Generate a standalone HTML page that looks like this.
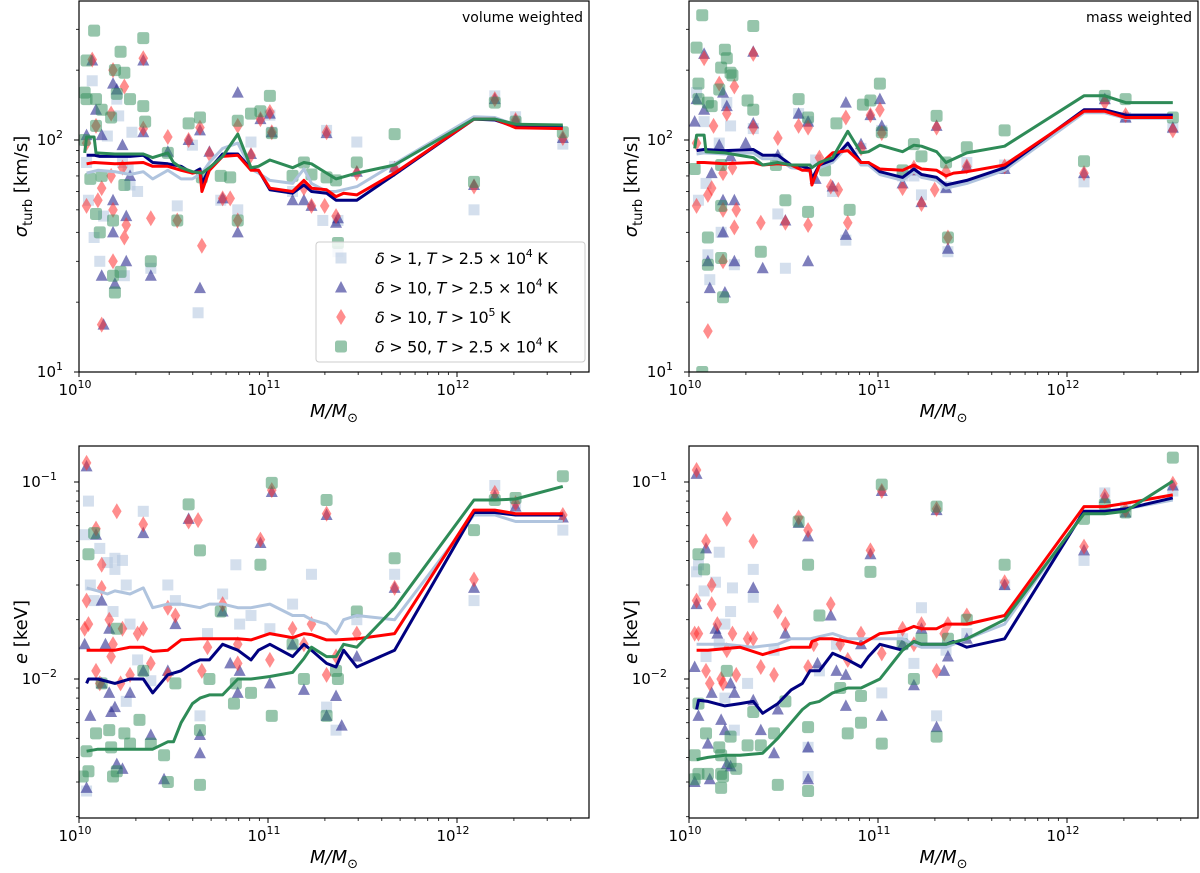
<!DOCTYPE html>
<html><head><meta charset="utf-8"><style>
body{margin:0;background:#fff;}
svg{display:block;font-family:"DejaVu Sans","Liberation Sans",sans-serif;}
</style></head><body>
<svg id="fig" width="1200" height="873" viewBox="0 0 1200 873" xmlns="http://www.w3.org/2000/svg"></svg>
<script>
// ---------- DATA (log10 mass, value) ----------
const tlLbLine=[[10.04,72],[10.1,74],[10.19,73],[10.27,71],[10.34,73],[10.39,68],[10.47,74],[10.54,68],[10.6,68],[10.65,72],[10.69,80],[10.76,92],[10.84,97],[10.91,75],[10.95,72],[11.01,67],[11.13,65],[11.19,75],[11.23,65],[11.31,60],[11.36,60],[11.47,63],[11.67,79],[12.09,126],[12.2,125],[12.31,116],[12.56,114]];
const tlNvLine=[[10.04,86],[10.08,86],[10.11,85],[10.19,85],[10.27,85],[10.34,86],[10.39,80],[10.47,79],[10.54,77],[10.6,72],[10.64,75],[10.65,65],[10.69,75],[10.76,87],[10.84,87],[10.91,75],[10.95,74],[11.01,61],[11.13,59],[11.19,64],[11.23,60],[11.31,59],[11.36,55],[11.47,55],[11.67,71],[12.09,123],[12.2,122],[12.31,114],[12.56,114]];
const tlRdLine=[[10.04,79],[10.08,80],[10.19,79],[10.34,80],[10.39,77],[10.47,77],[10.54,74],[10.6,72],[10.64,73],[10.65,60],[10.69,74],[10.76,85],[10.84,86],[10.91,74],[10.95,74],[11.01,62],[11.13,60],[11.19,67],[11.23,62],[11.31,61],[11.36,57],[11.4,59],[11.47,58],[11.67,72],[12.09,123],[12.2,123],[12.31,113],[12.56,112]];
const tlGrLine=[[10.03,88],[10.04,103],[10.08,103],[10.09,88],[10.19,87],[10.34,87],[10.39,84],[10.47,88],[10.5,80],[10.54,76],[10.6,73],[10.65,72],[10.69,76],[10.76,85],[10.84,106],[10.91,76],[10.95,77],[11.01,82],[11.13,76],[11.19,80],[11.23,79],[11.31,72],[11.36,68],[11.47,72],[11.67,78],[12.09,123],[12.2,123],[12.31,117],[12.56,116]];
const tlLbPts=[[10.04,80],[10.05,55],[10.07,180],[10.08,38],[10.11,30],[10.13,47],[10.15,104],[10.2,150],[10.21,127],[10.23,80],[10.24,26],[10.26,75],[10.27,64],[10.28,108],[10.31,60],[10.38,28],[10.52,52],[10.6,95],[10.63,18],[10.75,55],[10.84,50],[10.91,98],[11.01,128],[11.02,108],[11.13,60],[11.29,45],[11.31,110],[11.37,45],[11.37,33],[11.47,98],[11.67,77],[12.09,50],[12.2,155],[12.31,126],[12.56,96]];
const tlNvPts=[[10.04,105],[10.07,220],[10.09,135],[10.12,105],[10.13,16],[10.12,26],[10.18,175],[10.18,55],[10.18,40],[10.19,24],[10.2,165],[10.23,95],[10.25,47],[10.25,30],[10.27,70],[10.34,220],[10.34,108],[10.38,26],[10.47,89],[10.58,100],[10.64,110],[10.64,23],[10.69,89],[10.76,56],[10.84,160],[10.84,40],[10.91,87],[10.96,123],[11.01,130],[11.02,108],[11.13,55],[11.19,55],[11.23,52],[11.31,107],[11.36,44],[11.37,46],[11.47,73],[11.67,76],[12.09,64],[12.2,150],[12.31,122],[12.56,102]];
const tlRdPts=[[10.04,97],[10.04,52],[10.07,222],[10.09,115],[10.1,55],[10.12,16],[10.12,62],[10.17,130],[10.18,50],[10.18,30],[10.17,70],[10.18,200],[10.23,76],[10.24,170],[10.24,38],[10.25,43],[10.34,225],[10.34,112],[10.38,46],[10.47,103],[10.52,45],[10.58,100],[10.64,113],[10.65,35],[10.69,87],[10.76,56],[10.8,56],[10.84,115],[10.84,45],[10.91,86],[10.96,123],[11.01,132],[11.02,108],[11.19,62],[11.23,52],[11.31,108],[11.3,52],[11.36,47],[11.47,72],[11.67,75],[12.09,63],[12.2,150],[12.31,122],[12.56,102]];
const tlGrPts=[[10.04,220],[10.08,296],[10.03,160],[10.04,150],[10.09,150],[10.12,135],[10.09,115],[10.19,200],[10.2,158],[10.22,240],[10.24,195],[10.27,150],[10.34,275],[10.34,140],[10.17,125],[10.35,120],[10.03,100],[10.06,68],[10.09,48],[10.11,40],[10.18,45],[10.18,26],[10.19,22],[10.22,27],[10.38,30],[10.47,88],[10.52,45],[10.58,118],[10.64,125],[10.65,69],[10.75,70],[10.8,69],[10.84,121],[10.84,45],[10.91,130],[10.96,133],[11.01,155],[11.02,107],[11.13,70],[11.19,80],[11.23,71],[11.31,69],[11.36,67],[11.37,36],[11.47,80],[11.67,106],[12.09,66],[12.2,145],[12.31,120],[12.56,108],[10.24,64],[10.12,70]];

const trLbLine=[[10.04,87],[10.08,88],[10.19,87],[10.34,88],[10.39,83],[10.47,83],[10.54,76],[10.6,75],[10.64,73],[10.65,67],[10.69,76],[10.76,80],[10.84,94],[10.91,78],[10.95,78],[11.01,71],[11.13,67],[11.19,73],[11.23,69],[11.31,67],[11.36,62],[11.47,65],[11.67,74],[12.09,131],[12.2,131],[12.31,124],[12.56,124]];
const trNvLine=[[10.04,90],[10.08,91],[10.19,90],[10.34,91],[10.39,86],[10.47,86],[10.54,78],[10.6,77],[10.64,75],[10.65,68],[10.69,78],[10.76,82],[10.84,97],[10.91,80],[10.95,80],[11.01,73],[11.13,69],[11.19,75],[11.23,71],[11.31,69],[11.36,64],[11.47,67],[11.67,76],[12.09,135],[12.2,135],[12.31,128],[12.56,128]];
const trRdLine=[[10.04,80],[10.08,80],[10.19,79],[10.34,80],[10.39,78],[10.47,79],[10.54,78],[10.6,74],[10.64,74],[10.65,64],[10.69,78],[10.76,88],[10.84,90],[10.91,80],[10.95,80],[11.01,75],[11.13,74],[11.19,78],[11.23,75],[11.31,74],[11.36,70],[11.4,72],[11.47,73],[11.67,78],[12.09,133],[12.2,133],[12.31,125],[12.56,125]];
const trGrLine=[[10.03,92],[10.04,105],[10.08,105],[10.09,89],[10.19,88],[10.34,84],[10.39,78],[10.47,80],[10.54,78],[10.6,78],[10.64,78],[10.65,76],[10.69,80],[10.76,84],[10.84,109],[10.91,88],[10.95,89],[11.01,95],[11.13,89],[11.19,95],[11.23,94],[11.31,89],[11.36,80],[11.47,88],[11.67,94],[12.09,155],[12.2,155],[12.31,145],[12.56,145]];
const trLbPts=[[10.04,160],[10.08,120],[10.05,55],[10.09,65],[10.1,32],[10.11,25],[10.16,97],[10.2,145],[10.22,115],[10.17,40],[10.24,29],[10.34,112],[10.47,83],[10.47,48],[10.51,28],[10.58,130],[10.63,120],[10.67,82],[10.76,60],[10.83,37],[10.91,92],[11.02,110],[11.13,70],[11.19,70],[11.23,58],[11.36,63],[11.37,33],[11.47,80],[11.67,78],[12.09,66],[12.2,150],[12.31,125],[12.56,113]];
const trNvPts=[[10.04,150],[10.08,235],[10.08,135],[10.03,120],[10.1,30],[10.11,23],[10.12,72],[10.16,95],[10.18,160],[10.18,55],[10.18,40],[10.19,22],[10.2,140],[10.22,85],[10.24,55],[10.24,30],[10.3,97],[10.34,240],[10.34,118],[10.39,28],[10.47,86],[10.51,45],[10.58,130],[10.63,120],[10.63,30],[10.67,68],[10.76,63],[10.83,145],[10.83,39],[10.91,96],[10.96,128],[11.01,150],[11.02,115],[11.13,65],[11.19,74],[11.23,54],[11.31,115],[11.36,62],[11.37,34],[11.47,77],[11.67,75],[12.09,72],[12.2,150],[12.31,125],[12.56,113]];
const trRdPts=[[10.04,97],[10.04,52],[10.08,225],[10.1,15],[10.1,58],[10.12,62],[10.13,115],[10.16,175],[10.18,50],[10.18,30],[10.18,72],[10.2,130],[10.23,76],[10.24,170],[10.24,42],[10.25,50],[10.34,235],[10.34,113],[10.38,44],[10.47,102],[10.51,44],[10.58,115],[10.63,113],[10.63,43],[10.69,84],[10.75,63],[10.79,61],[10.83,125],[10.84,44],[10.91,92],[10.96,128],[11.01,135],[11.02,107],[11.13,62],[11.19,76],[11.23,53],[11.31,113],[11.3,61],[11.36,73],[11.37,38],[11.47,77],[11.67,77],[12.09,72],[12.2,145],[12.31,128],[12.56,110]];
const trGrPts=[[10.04,250],[10.05,175],[10.07,345],[10.05,150],[10.1,145],[10.12,140],[10.03,75],[10.17,205],[10.19,245],[10.2,225],[10.22,195],[10.16,165],[10.17,78],[10.23,190],[10.31,148],[10.34,310],[10.34,135],[10.17,52],[10.1,29],[10.1,38],[10.17,31],[10.18,21],[10.07,10],[10.38,33],[10.51,55],[10.58,150],[10.63,125],[10.63,49],[10.72,74],[10.78,118],[10.85,50],[10.92,142],[10.96,148],[11.01,175],[11.02,108],[11.13,74],[11.19,96],[11.23,85],[11.31,127],[11.36,80],[11.37,38],[11.47,93],[11.67,110],[12.09,81],[12.2,155],[12.31,150],[12.56,125],[10.46,78]];

const blLbLine=[[10.04,0.029],[10.1,0.028],[10.15,0.027],[10.19,0.028],[10.27,0.027],[10.34,0.029],[10.39,0.023],[10.47,0.024],[10.54,0.024],[10.64,0.023],[10.69,0.024],[10.76,0.024],[10.84,0.023],[10.91,0.023],[11.01,0.024],[11.13,0.021],[11.19,0.021],[11.23,0.02],[11.31,0.019],[11.36,0.017],[11.4,0.02],[11.47,0.021],[11.67,0.02],[12.09,0.068],[12.2,0.068],[12.31,0.063],[12.56,0.063]];
const blNvLine=[[10.04,0.0095],[10.05,0.01],[10.1,0.01],[10.19,0.0095],[10.27,0.01],[10.34,0.01],[10.39,0.0085],[10.47,0.0105],[10.54,0.011],[10.6,0.012],[10.64,0.0125],[10.69,0.0125],[10.76,0.015],[10.84,0.014],[10.91,0.0125],[10.95,0.014],[11.01,0.015],[11.13,0.013],[11.19,0.015],[11.23,0.014],[11.31,0.012],[11.36,0.0115],[11.4,0.014],[11.47,0.0115],[11.67,0.014],[12.09,0.07],[12.2,0.07],[12.31,0.068],[12.56,0.068]];
const blRdLine=[[10.04,0.014],[10.1,0.014],[10.19,0.014],[10.27,0.0145],[10.34,0.0145],[10.39,0.0138],[10.47,0.014],[10.54,0.0158],[10.64,0.016],[10.76,0.016],[10.84,0.016],[10.91,0.0158],[11.01,0.017],[11.13,0.0162],[11.19,0.017],[11.23,0.0168],[11.31,0.0158],[11.36,0.0158],[11.47,0.016],[11.67,0.017],[12.09,0.072],[12.2,0.072],[12.31,0.069],[12.56,0.069]];
const blGrLine=[[10.04,0.0043],[10.1,0.0044],[10.19,0.0044],[10.27,0.0044],[10.34,0.0044],[10.39,0.0044],[10.47,0.0048],[10.5,0.0048],[10.54,0.006],[10.6,0.0075],[10.64,0.008],[10.69,0.0083],[10.76,0.0083],[10.84,0.01],[10.91,0.01],[11.01,0.0103],[11.13,0.0108],[11.19,0.0127],[11.23,0.0145],[11.31,0.013],[11.36,0.013],[11.4,0.015],[11.47,0.0145],[11.67,0.023],[12.09,0.081],[12.2,0.081],[12.31,0.082],[12.56,0.095]];
const blLbPts=[[10.05,0.08],[10.03,0.054],[10.06,0.03],[10.08,0.025],[10.11,0.046],[10.15,0.039],[10.19,0.041],[10.19,0.036],[10.23,0.04],[10.18,0.022],[10.25,0.03],[10.27,0.019],[10.31,0.0125],[10.34,0.071],[10.38,0.0098],[10.47,0.03],[10.51,0.025],[10.64,0.0065],[10.68,0.017],[10.76,0.027],[10.83,0.038],[10.85,0.019],[10.91,0.021],[11.01,0.018],[11.13,0.024],[11.23,0.034],[11.31,0.0072],[11.36,0.0055],[11.47,0.02],[11.67,0.034],[12.09,0.025],[12.2,0.096],[12.31,0.078],[12.56,0.057],[10.25,0.0077],[10.04,0.0027]];
const blNvPts=[[10.04,0.12],[10.04,0.0028],[10.03,0.015],[10.06,0.0065],[10.09,0.054],[10.12,0.0095],[10.12,0.025],[10.14,0.015],[10.16,0.018],[10.17,0.0068],[10.19,0.0072],[10.2,0.0037],[10.23,0.0035],[10.27,0.0085],[10.34,0.011],[10.34,0.055],[10.38,0.0052],[10.45,0.0031],[10.47,0.011],[10.51,0.019],[10.58,0.065],[10.64,0.0042],[10.64,0.0052],[10.76,0.022],[10.8,0.012],[10.84,0.0085],[10.85,0.011],[10.96,0.049],[11.01,0.0095],[11.02,0.089],[11.13,0.015],[11.19,0.0088],[11.31,0.068],[11.31,0.0065],[11.36,0.0082],[11.39,0.0058],[11.47,0.013],[11.67,0.029],[12.09,0.029],[12.2,0.085],[12.31,0.075],[12.56,0.066],[10.16,0.0085]];
const blRdPts=[[10.04,0.125],[10.04,0.025],[10.03,0.018],[10.05,0.019],[10.09,0.058],[10.09,0.011],[10.11,0.0095],[10.12,0.029],[10.12,0.038],[10.16,0.02],[10.17,0.013],[10.18,0.015],[10.2,0.071],[10.22,0.0095],[10.23,0.018],[10.27,0.0105],[10.31,0.017],[10.34,0.018],[10.34,0.061],[10.38,0.012],[10.47,0.0105],[10.47,0.023],[10.51,0.021],[10.58,0.063],[10.63,0.064],[10.65,0.011],[10.68,0.0145],[10.76,0.024],[10.84,0.012],[10.84,0.015],[10.96,0.051],[11.01,0.0125],[11.02,0.091],[11.13,0.018],[11.19,0.015],[11.23,0.019],[11.31,0.069],[11.31,0.0105],[11.36,0.013],[11.47,0.017],[11.67,0.029],[12.09,0.032],[12.2,0.088],[12.31,0.078],[12.56,0.068]];
const blGrPts=[[10.05,0.043],[10.08,0.055],[10.04,0.0043],[10.02,0.0032],[10.05,0.0034],[10.09,0.0053],[10.16,0.0055],[10.17,0.0045],[10.18,0.0032],[10.2,0.0034],[10.24,0.0053],[10.27,0.0047],[10.32,0.0062],[10.34,0.011],[10.38,0.0047],[10.45,0.0041],[10.47,0.003],[10.51,0.0095],[10.58,0.077],[10.64,0.045],[10.64,0.0055],[10.64,0.0029],[10.69,0.01],[10.75,0.022],[10.82,0.0075],[10.83,0.0095],[10.91,0.0085],[10.96,0.038],[11.02,0.0065],[11.02,0.099],[11.13,0.015],[11.19,0.01],[11.31,0.081],[11.31,0.0065],[11.36,0.011],[11.37,0.01],[11.47,0.022],[11.67,0.041],[12.09,0.057],[12.2,0.081],[12.31,0.083],[12.56,0.107],[10.12,0.0095],[10.2,0.018]];

const brLbLine=[[10.04,0.015],[10.1,0.015],[10.19,0.015],[10.34,0.0145],[10.47,0.015],[10.54,0.016],[10.64,0.016],[10.76,0.017],[10.84,0.016],[10.91,0.016],[11.01,0.016],[11.13,0.016],[11.19,0.015],[11.23,0.0145],[11.31,0.0145],[11.36,0.0145],[11.47,0.016],[11.67,0.019],[12.09,0.07],[12.2,0.07],[12.31,0.073],[12.56,0.081]];
const brNvLine=[[10.04,0.007],[10.05,0.0078],[10.1,0.0077],[10.19,0.0073],[10.27,0.0075],[10.34,0.0077],[10.39,0.0067],[10.47,0.0075],[10.54,0.0088],[10.6,0.0095],[10.64,0.011],[10.69,0.011],[10.76,0.0135],[10.84,0.0125],[10.91,0.0115],[10.95,0.013],[11.01,0.015],[11.13,0.014],[11.19,0.0155],[11.23,0.015],[11.31,0.015],[11.36,0.015],[11.4,0.0155],[11.47,0.0145],[11.67,0.016],[12.09,0.071],[12.2,0.071],[12.31,0.073],[12.56,0.083]];
const brRdLine=[[10.04,0.014],[10.1,0.014],[10.27,0.0145],[10.39,0.0133],[10.47,0.014],[10.54,0.0145],[10.64,0.0145],[10.65,0.0155],[10.69,0.016],[10.76,0.016],[10.84,0.0155],[10.91,0.015],[11.01,0.017],[11.13,0.0175],[11.19,0.0185],[11.23,0.018],[11.31,0.018],[11.36,0.019],[11.47,0.019],[11.67,0.021],[12.09,0.075],[12.2,0.075],[12.31,0.078],[12.56,0.086]];
const brGrLine=[[10.04,0.0039],[10.1,0.004],[10.19,0.0041],[10.27,0.0041],[10.39,0.0042],[10.47,0.005],[10.54,0.006],[10.6,0.007],[10.64,0.0075],[10.69,0.0077],[10.76,0.0085],[10.84,0.009],[10.91,0.009],[11.01,0.01],[11.13,0.014],[11.19,0.0155],[11.23,0.015],[11.31,0.015],[11.36,0.015],[11.47,0.016],[11.67,0.02],[12.09,0.069],[12.2,0.069],[12.31,0.071],[12.56,0.101]];
const brLbPts=[[10.04,0.035],[10.05,0.038],[10.08,0.028],[10.09,0.013],[10.14,0.031],[10.16,0.044],[10.19,0.019],[10.22,0.022],[10.23,0.029],[10.16,0.015],[10.19,0.008],[10.24,0.0055],[10.31,0.0095],[10.34,0.026],[10.34,0.036],[10.45,0.014],[10.63,0.0032],[10.63,0.0045],[10.69,0.011],[10.78,0.015],[11.02,0.0085],[11.13,0.016],[11.19,0.012],[11.23,0.023],[11.31,0.0065],[11.36,0.014],[11.47,0.017],[11.67,0.03],[12.09,0.04],[12.2,0.088],[12.31,0.075],[12.56,0.09]];
const brNvPts=[[10.04,0.11],[10.04,0.024],[10.03,0.0115],[10.05,0.0065],[10.03,0.003],[10.09,0.046],[10.12,0.0085],[10.1,0.0047],[10.11,0.0031],[10.14,0.018],[10.15,0.017],[10.17,0.0062],[10.19,0.0055],[10.2,0.0037],[10.22,0.0036],[10.22,0.0095],[10.24,0.0085],[10.34,0.029],[10.34,0.0078],[10.38,0.0055],[10.45,0.0042],[10.47,0.007],[10.51,0.017],[10.58,0.062],[10.63,0.053],[10.63,0.0045],[10.63,0.0031],[10.68,0.012],[10.75,0.021],[10.78,0.011],[10.83,0.0105],[10.83,0.0073],[10.91,0.015],[10.96,0.043],[11.02,0.0065],[11.02,0.09],[11.13,0.015],[11.19,0.0093],[11.23,0.018],[11.31,0.072],[11.31,0.0057],[11.35,0.011],[11.37,0.013],[11.47,0.016],[11.67,0.03],[12.09,0.045],[12.2,0.083],[12.31,0.07],[12.56,0.096]];
const brRdPts=[[10.04,0.115],[10.04,0.025],[10.03,0.017],[10.05,0.017],[10.09,0.05],[10.09,0.011],[10.11,0.0095],[10.12,0.03],[10.12,0.024],[10.15,0.019],[10.17,0.01],[10.18,0.0095],[10.2,0.065],[10.2,0.014],[10.23,0.017],[10.25,0.0105],[10.31,0.016],[10.34,0.016],[10.34,0.05],[10.38,0.0115],[10.45,0.0105],[10.47,0.022],[10.51,0.019],[10.58,0.066],[10.63,0.057],[10.63,0.0115],[10.66,0.015],[10.75,0.024],[10.8,0.015],[10.84,0.0125],[10.91,0.017],[10.96,0.045],[11.02,0.0135],[11.02,0.09],[11.13,0.018],[11.19,0.015],[11.23,0.019],[11.31,0.073],[11.31,0.011],[11.35,0.017],[11.37,0.019],[11.47,0.021],[11.67,0.031],[12.09,0.047],[12.2,0.085],[12.31,0.072],[12.56,0.098]];
const brGrPts=[[10.05,0.043],[10.08,0.036],[10.05,0.0075],[10.03,0.0041],[10.05,0.0033],[10.03,0.0031],[10.09,0.0053],[10.1,0.0033],[10.16,0.0045],[10.17,0.0041],[10.17,0.0033],[10.17,0.0028],[10.18,0.0032],[10.2,0.011],[10.22,0.0051],[10.22,0.0038],[10.25,0.0035],[10.31,0.0046],[10.34,0.0068],[10.38,0.0046],[10.45,0.0053],[10.47,0.0029],[10.51,0.0077],[10.58,0.063],[10.63,0.038],[10.63,0.0057],[10.63,0.0027],[10.69,0.021],[10.8,0.009],[10.84,0.0053],[10.91,0.0082],[10.91,0.006],[10.96,0.035],[11.02,0.0047],[11.02,0.097],[11.13,0.015],[11.19,0.01],[11.23,0.016],[11.31,0.075],[11.31,0.0051],[11.37,0.016],[11.47,0.02],[11.67,0.038],[12.09,0.065],[12.2,0.077],[12.31,0.07],[12.56,0.133]];

const xTickExps=[10,11,12];
const sigmaTickExps=[1,2];
const eTickExps=[-2,-1];
const legendLabels=["1, T > 2.5 × 10","10, T > 2.5 × 10","10, T > 10","50, T > 2.5 × 10"];

// ---------- DRAW ----------
const NS="http://www.w3.org/2000/svg";
const svg=document.getElementById('fig');
function mk(tag,attrs,parent){const e=document.createElementNS(NS,tag);for(const k in attrs)e.setAttribute(k,attrs[k]);(parent||svg).appendChild(e);return e;}

const panels=[
 {id:'tl',x0:79,x1:589,y0:1,y1:372,yA:2,pyA:140,yB:1,pyB:372,yt:sigmaTickExps,yl:'sigma',lines:[tlLbLine,tlNvLine,tlRdLine,tlGrLine],pts:[tlLbPts,tlNvPts,tlRdPts,tlGrPts],title:'volume weighted'},
 {id:'tr',x0:689,x1:1198,y0:1,y1:372,yA:2,pyA:140,yB:1,pyB:372,yt:sigmaTickExps,yl:'sigma',lines:[trLbLine,trNvLine,trRdLine,trGrLine],pts:[trLbPts,trNvPts,trRdPts,trGrPts],title:'mass weighted'},
 {id:'bl',x0:79,x1:589,y0:446,y1:818,yA:-1,pyA:482,yB:-2,pyB:679,yt:eTickExps,yl:'e',lines:[blLbLine,blNvLine,blRdLine,blGrLine],pts:[blLbPts,blNvPts,blRdPts,blGrPts]},
 {id:'br',x0:689,x1:1198,y0:446,y1:818,yA:-1,pyA:482,yB:-2,pyB:679,yt:eTickExps,yl:'e',lines:[brLbLine,brNvLine,brRdLine,brGrLine],pts:[brLbPts,brNvPts,brRdPts,brGrPts]}
];
const lineColors=['#b0c4de','#000080','#ff0000','#2e8b57'];
const DEC=189;

function marker(g,kind,x,y){
 let e;
 if(kind===0){e=mk('rect',{x:x-5.5,y:y-5.5,width:11,height:11,fill:'#b0c4de','fill-opacity':0.55},g);}
 else if(kind===1){e=mk('path',{d:`M${x},${y-6.5}L${x+6},${y+5}L${x-6},${y+5}Z`,fill:'#2a2a90','fill-opacity':0.6},g);}
 else if(kind===2){e=mk('path',{d:`M${x},${y-8}L${x+4.8},${y}L${x},${y+8}L${x-4.8},${y}Z`,fill:'#ff3030','fill-opacity':0.55},g);}
 else {e=mk('rect',{x:x-6,y:y-6,width:12,height:12,rx:2.5,fill:'#2e8b57','fill-opacity':0.5},g);}
 return e;
}

panels.forEach(p=>{
 const g=mk('g',{});
 
 
 const X=m=>p.x0+(m-10)*DEC;
 const Y=v=>p.pyA+(p.yA-Math.log10(v))*(p.pyB-p.pyA)/(p.yA-p.yB);
 const Yl=l=>p.pyA+(p.yA-l)*(p.pyB-p.pyA)/(p.yA-p.yB);
 const cp='clip-'+p.id;
 const cl=mk('clipPath',{id:cp},g);mk('rect',{x:p.x0,y:p.y0,width:p.x1-p.x0,height:p.y1-p.y0},cl);
 const plot=mk('g',{'clip-path':`url(#${cp})`},g);
 
 
 const names=['delta1-points','delta10-points','delta10-hot-points','delta50-points'];
 p.pts.forEach((arr,k)=>{
  const sg=mk('g',{},plot);
  
  
  arr.forEach(d=>{const m=marker(sg,k,X(d[0]),Y(d[1]));
   
   });
 });
 const lnames=['delta1-line','delta10-line','delta10-hot-line','delta50-line'];
 p.lines.forEach((arr,k)=>{
  const l=mk('polyline',{points:arr.map(d=>X(d[0]).toFixed(1)+','+Y(d[1]).toFixed(1)).join(' '),fill:'none',stroke:lineColors[k],'stroke-width':3,'stroke-linejoin':'round'},plot);
  
  
 });
 mk('rect',{x:p.x0,y:p.y0,width:p.x1-p.x0,height:p.y1-p.y0,fill:'none',stroke:'#000','stroke-width':1.2},g);
 for(let e=10;e<=12;e++){for(let k=1;k<=9;k++){const m=e+Math.log10(k);const x=X(m);if(x>p.x1)continue;
  mk('line',{x1:x,y1:p.y1,x2:x,y2:p.y1+(k===1?5:3),stroke:'#000','stroke-width':k===1?1:0.8},g);}}
 xTickExps.forEach(e=>{const t=mk('text',{x:X(e)-4,y:p.y1+23,'text-anchor':'middle','font-size':15},g);t.textContent='10';
  const s=mk('tspan',{dy:-7,'font-size':11},t);s.textContent=e;
  });
 const lo=Math.floor(Math.min(p.yA,p.yB))-1, hi=Math.max(p.yA,p.yB)+1;
 for(let e=lo;e<=hi;e++){for(let k=1;k<=9;k++){const l=e+Math.log10(k);const y=Yl(l);if(y<p.y0-0.5||y>p.y1+0.5)continue;
  mk('line',{x1:p.x0,y1:y,x2:p.x0-(k===1?5:3),y2:y,stroke:'#000','stroke-width':k===1?1:0.8},g);}}
 p.yt.forEach(e=>{const y=Yl(e);if(y>p.y1+1)return;
  const t=mk('text',{x:p.x0-(e<0?22:16),y:y+5,'text-anchor':'end','font-size':15},g);t.textContent='10';
  const s=mk('tspan',{dy:-7,'font-size':11},t);s.textContent=e<0?'\u2212'+(-e):e;
  });
 const xl=mk('text',{x:(p.x0+p.x1)/2,y:p.y1+45,'text-anchor':'middle','font-size':18,'font-style':'italic'},g);
 xl.textContent='M/M';const sub=mk('tspan',{dy:5,'font-size':13,'font-style':'normal'},xl);sub.textContent='\u2299';
 
 const cy=(p.y0+p.y1)/2;
 const yl=mk('text',{x:0,y:0,transform:`translate(${p.x0-52},${cy}) rotate(-90)`,'text-anchor':'middle','font-size':18},g);
 if(p.yl==='sigma'){const a=mk('tspan',{'font-style':'italic'},yl);a.textContent='\u03c3';const b=mk('tspan',{dy:5,'font-size':13},yl);b.textContent='turb';const c=mk('tspan',{dy:-5},yl);c.textContent=' [km/s]';}
 else{const a=mk('tspan',{'font-style':'italic'},yl);a.textContent='e';const c=mk('tspan',{},yl);c.textContent=' [keV]';}
 
 if(p.title){const t=mk('text',{x:p.x1-6,y:p.y0+21,'text-anchor':'end','font-size':14},g);t.textContent=p.title;
  }
});

const lg=mk('g',{});


mk('rect',{x:316,y:242,width:269,height:120,rx:3,fill:'#fff','fill-opacity':0.8,stroke:'#ccc','stroke-width':1},lg);
const supers=['4','4','5','4'];
legendLabels.forEach((lab,i)=>{
 const y=258+i*29.5;
 const ent=mk('g',{},lg);
 
 
 marker(ent,i,341,y);
 const t=mk('text',{x:375,y:y+6,'font-size':16,'letter-spacing':-0.3},ent);
 const d=mk('tspan',{'font-style':'italic'},t);d.textContent='\u03b4';
 const a=mk('tspan',{},t);a.textContent=' > '+lab.split(', T')[0]+', ';
 const tt=mk('tspan',{'font-style':'italic'},t);tt.textContent='T';
 const b=mk('tspan',{},t);b.textContent=lab.split(', T')[1];
 const s=mk('tspan',{dy:-7,'font-size':11},t);s.textContent=supers[i];
 const k=mk('tspan',{dy:7},t);k.textContent=' K';
});
</script>
</body></html>
